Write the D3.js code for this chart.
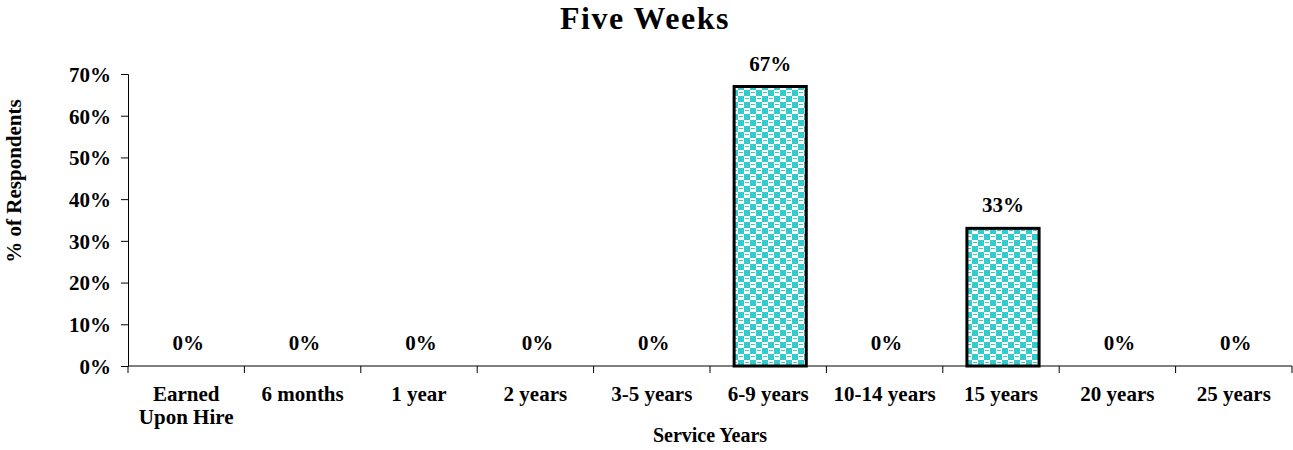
<!DOCTYPE html>
<html>

<head>
  <meta charset="utf-8">
  <title>Five Weeks</title>
  <script src="https://d3js.org/d3.v7.min.js"></script>
  <style>
    body { margin: 0; background: #fff; }
    text { font-family: "Liberation Serif", "DejaVu Serif", serif; font-weight: bold; fill: #000; }
  </style>
</head>

<body>

  <script>
    var width = 1293;
    var height = 450;

    // data
    var categories = ["Earned\nUpon Hire", "6 months", "1 year", "2 years", "3-5 years",
      "6-9 years", "10-14 years", "15 years", "20 years", "25 years"];
    var values = [0, 0, 0, 0, 0, 67, 0, 33, 0, 0];
    var yTicks = [0, 10, 20, 30, 40, 50, 60, 70];

    var margin = { top: 74, right: 1, bottom: 84, left: 128 };

    var svg = d3.select("body").append("svg").attr("width", width).attr("height", height);

    // checkered fill (cyan / white)
    var defs = svg.append("defs");
    var pat = defs.append("pattern")
      .attr("id", "chk")
      .attr("patternUnits", "userSpaceOnUse")
      .attr("width", 12).attr("height", 12);
    pat.append("rect").attr("width", 12).attr("height", 12).attr("fill", "#33cccc");
    pat.append("rect").attr("x", 0).attr("y", 0).attr("width", 6).attr("height", 6).attr("fill", "#fff");
    pat.append("rect").attr("x", 6).attr("y", 6).attr("width", 6).attr("height", 6).attr("fill", "#fff");
    pat.append("rect").attr("x", 1).attr("y", 2).attr("width", 4).attr("height", 1).attr("fill", "#33cccc");
    pat.append("rect").attr("x", 7).attr("y", 8).attr("width", 4).attr("height", 1).attr("fill", "#33cccc");

    var x = d3.scaleBand().domain(categories)
      .range([margin.left, width - margin.right])
      .paddingInner(0.38).paddingOuter(0.19);
    var y = d3.scaleLinear().domain([0, 70]).range([height - margin.bottom, margin.top]);

    // title
    svg.append("text")
      .attr("x", 645).attr("y", 29)
      .attr("text-anchor", "middle")
      .style("font-size", "32px")
      .style("letter-spacing", "1.5px")
      .text("Five Weeks");

    // bars
    svg.selectAll("rect.bar")
      .data(values.map(function (v, i) { return { c: categories[i], v: v }; })
        .filter(function (d) { return d.v > 0; }))
      .enter()
      .append("rect")
      .attr("class", "bar")
      .attr("x", function (d) { return x(d.c) + 2; })
      .attr("y", function (d) { return y(d.v); })
      .attr("width", x.bandwidth())
      .attr("height", function (d) { return y(0) - y(d.v); })
      .attr("fill", "url(#chk)")
      .attr("stroke", "#000")
      .attr("stroke-width", 3);

    // y axis
    var gY = svg.append("g")
      .attr("transform", "translate(" + margin.left + ",0)")
      .call(d3.axisLeft(y).tickValues(yTicks).tickSize(7).tickPadding(10)
        .tickFormat(function (d) { return d + "%"; }));
    gY.selectAll("text").style("font-size", "21px").attr("dy", "0.35em");
    gY.selectAll("line, path").attr("stroke", "#000");

    // x axis with ticks at band edges
    var xBase = y(0);
    var gX = svg.append("g");
    gX.append("line")
      .attr("x1", margin.left).attr("x2", width - margin.right)
      .attr("y1", xBase).attr("y2", xBase)
      .attr("stroke", "#000");
    var step = x.step();
    var edges = d3.range(categories.length + 1).map(function (i) {
      return x(categories[0]) - x.paddingOuter() * step + i * step;
    });
    gX.selectAll("line.tk")
      .data(edges)
      .enter()
      .append("line")
      .attr("class", "tk")
      .attr("x1", function (d) { return d; }).attr("x2", function (d) { return d; })
      .attr("y1", xBase).attr("y2", xBase + 7)
      .attr("stroke", "#000");

    var labels = gX.selectAll("text.cat")
      .data(categories)
      .enter()
      .append("text")
      .attr("class", "cat")
      .attr("text-anchor", "middle")
      .style("font-size", "21px")
      .attr("transform", function (d) {
        return "translate(" + (x(d) + x.bandwidth() / 2) + "," + (xBase + 35) + ")";
      });
    labels.selectAll("tspan")
      .data(function (d) { return d.split("\n"); })
      .enter()
      .append("tspan")
      .attr("x", 0)
      .attr("dy", function (d, i) { return i === 0 ? 0 : 23; })
      .text(function (d) { return d; });

    // value labels
    svg.selectAll("text.val")
      .data(values)
      .enter()
      .append("text")
      .attr("class", "val")
      .attr("text-anchor", "middle")
      .style("font-size", "21px")
      .attr("x", function (d, i) { return x(categories[i]) + x.bandwidth() / 2 + 2; })
      .attr("y", function (d) { return y(d) - 16; })
      .text(function (d) { return d + "%"; });

    // axis titles
    svg.append("text")
      .attr("x", 710).attr("y", 442)
      .attr("text-anchor", "middle")
      .style("font-size", "20px")
      .text("Service Years");

    svg.append("text")
      .attr("transform", "translate(21,181) rotate(-90)")
      .attr("text-anchor", "middle")
      .style("font-size", "21px")
      .text("% of Respondents");
  </script>

</body>

</html>
